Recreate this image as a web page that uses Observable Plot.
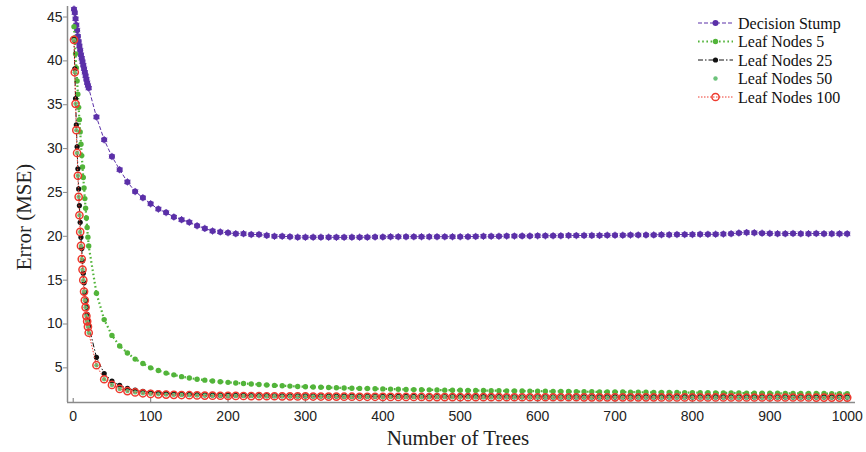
<!DOCTYPE html>
<html>
<head>
<meta charset="utf-8">
<script src="https://cdn.jsdelivr.net/npm/d3@7"></script>
<script src="https://cdn.jsdelivr.net/npm/@observablehq/plot@0.6"></script>
<style>
  html, body { margin: 0; padding: 0; background: #fff; }
  #chart svg { display: block; }
</style>
</head>
<body>
<div id="chart"></div>
<script>
// ---- Data ----
const trees = [1,2,3,4,5,6,7,8,9,10,11,12,13,14,15,16,17,18,19,20,
  30,40,50,60,70,80,90,100,
  110,120,130,140,150,160,170,180,190,200,
  210,220,230,240,250,260,270,280,290,300,
  310,320,330,340,350,360,370,380,390,400,
  410,420,430,440,450,460,470,480,490,500,
  510,520,530,540,550,560,570,580,590,600,
  610,620,630,640,650,660,670,680,690,700,
  710,720,730,740,750,760,770,780,790,800,
  810,820,830,840,850,860,870,880,890,900,
  910,920,930,940,950,960,970,980,990,1000];

const decisionStump = [45.9,45.5,44.8,44.1,43.5,42.8,42.2,41.7,41.2,40.7,40.3,39.9,39.5,39.1,38.7,38.3,37.9,37.5,37.2,36.9,
  33.6,31.0,29.1,27.6,26.2,25.1,24.4,23.7,
  23.1,22.7,22.2,21.9,21.6,21.2,20.9,20.6,20.5,20.4,
  20.3,20.3,20.2,20.2,20.1,20.0,20.0,19.95,19.9,19.9,
  19.9,19.9,19.9,19.88,19.88,19.9,19.9,19.9,19.92,19.92,
  19.95,19.95,19.95,19.95,19.95,19.95,19.95,19.95,19.95,19.95,
  19.96,19.98,20.0,20.0,20.0,20.02,20.02,20.04,20.04,20.05,
  20.05,20.06,20.06,20.08,20.08,20.1,20.1,20.1,20.12,20.12,
  20.12,20.14,20.15,20.15,20.16,20.18,20.18,20.2,20.2,20.2,
  20.22,20.22,20.24,20.25,20.3,20.38,20.42,20.4,20.36,20.33,
  20.3,20.3,20.32,20.3,20.3,20.32,20.3,20.3,20.28,20.28];

const leafNodes5 = [43.9,42.3,40.8,39.2,37.7,36.2,34.7,33.3,31.9,30.5,29.2,27.9,26.7,25.5,24.3,23.2,22.1,21.0,19.9,18.9,
  13.5,10.5,8.7,7.5,6.7,6.0,5.5,5.0,
  4.7,4.4,4.2,4.0,3.85,3.7,3.6,3.5,3.42,3.35,
  3.28,3.22,3.16,3.1,3.05,3.0,2.96,2.92,2.88,2.85,
  2.82,2.79,2.76,2.73,2.7,2.68,2.66,2.64,2.62,2.6,
  2.58,2.56,2.54,2.52,2.5,2.49,2.48,2.46,2.45,2.44,
  2.43,2.42,2.41,2.4,2.39,2.38,2.37,2.36,2.35,2.34,
  2.33,2.32,2.31,2.3,2.29,2.28,2.27,2.26,2.26,2.25,
  2.24,2.23,2.22,2.22,2.21,2.2,2.19,2.19,2.18,2.17,
  2.16,2.16,2.15,2.14,2.14,2.13,2.12,2.12,2.11,2.1,
  2.1,2.09,2.09,2.08,2.08,2.07,2.07,2.06,2.06,2.05];

const leafNodes25 = [42.5,39.1,35.7,32.7,30.2,27.7,25.4,23.5,21.6,19.9,18.6,17.2,15.8,14.7,13.6,12.7,11.9,11.1,10.4,9.8,
  6.2,4.35,3.5,3.0,2.65,2.45,2.32,2.22,
  2.15,2.1,2.05,2.0,1.97,1.95,1.93,1.91,1.89,1.88,
  1.87,1.86,1.85,1.84,1.83,1.82,1.82,1.81,1.8,1.8,
  1.79,1.79,1.78,1.78,1.77,1.77,1.76,1.76,1.75,1.75,
  1.75,1.74,1.74,1.74,1.73,1.73,1.73,1.72,1.72,1.72,
  1.72,1.71,1.71,1.71,1.71,1.7,1.7,1.7,1.7,1.7,
  1.69,1.69,1.69,1.69,1.69,1.69,1.69,1.69,1.69,1.69,
  1.69,1.69,1.68,1.68,1.68,1.68,1.68,1.68,1.68,1.68,
  1.68,1.68,1.68,1.68,1.68,1.68,1.68,1.68,1.68,1.68,
  1.67,1.67,1.67,1.67,1.67,1.67,1.67,1.67,1.67,1.67];

const leafNodes50 = [42.4,38.7,35.1,32.1,29.5,26.9,24.5,22.4,20.5,18.9,17.4,16.2,15.0,13.7,12.7,11.9,10.9,10.3,9.7,9.0,
  5.3,3.7,3.05,2.6,2.35,2.2,2.1,2.03,
  1.98,1.95,1.92,1.9,1.88,1.86,1.84,1.83,1.82,1.81,
  1.8,1.79,1.78,1.77,1.76,1.76,1.75,1.75,1.74,1.74,
  1.73,1.73,1.72,1.72,1.71,1.71,1.7,1.7,1.7,1.69,
  1.69,1.69,1.68,1.68,1.68,1.67,1.67,1.67,1.67,1.66,
  1.66,1.66,1.66,1.66,1.66,1.65,1.65,1.65,1.65,1.65,
  1.65,1.65,1.65,1.65,1.65,1.64,1.64,1.64,1.64,1.64,
  1.64,1.64,1.64,1.64,1.64,1.63,1.63,1.63,1.63,1.63,
  1.63,1.63,1.63,1.63,1.63,1.62,1.62,1.62,1.62,1.62,
  1.62,1.62,1.62,1.62,1.62,1.61,1.61,1.61,1.61,1.61];

const leafNodes100 = [42.4,38.7,35.1,32.1,29.5,26.9,24.5,22.4,20.5,18.9,17.4,16.2,15.0,13.7,12.7,11.9,10.9,10.3,9.7,9.0,
  5.3,3.7,3.05,2.6,2.35,2.2,2.1,2.03,
  1.98,1.95,1.92,1.9,1.88,1.86,1.84,1.83,1.82,1.81,
  1.8,1.79,1.78,1.77,1.76,1.76,1.75,1.75,1.74,1.74,
  1.73,1.73,1.72,1.72,1.71,1.71,1.7,1.7,1.7,1.69,
  1.69,1.69,1.68,1.68,1.68,1.67,1.67,1.67,1.67,1.66,
  1.66,1.66,1.66,1.66,1.66,1.65,1.65,1.65,1.65,1.65,
  1.65,1.65,1.65,1.65,1.65,1.64,1.64,1.64,1.64,1.64,
  1.64,1.64,1.64,1.64,1.64,1.63,1.63,1.63,1.63,1.63,
  1.63,1.63,1.63,1.63,1.63,1.62,1.62,1.62,1.62,1.62,
  1.62,1.62,1.62,1.62,1.62,1.61,1.61,1.61,1.61,1.61];

const seriesNames = ["Decision Stump", "Leaf Nodes 5", "Leaf Nodes 25", "Leaf Nodes 50", "Leaf Nodes 100"];
const xTicks = [0,100,200,300,400,500,600,700,800,900,1000];
const yTicks = [5,10,15,20,25,30,35,40,45];
const xTitle = "Number of Trees";
const yTitle = "Error (MSE)";

// ---- Styles ----
const styles = {
  "Decision Stump": {color: "#5b30a8", dash: "4,2", width: 1, line: true, marker: "stump"},
  "Leaf Nodes 5":   {color: "#52b43a", dash: "1.6,2.6", width: 2.2, line: true, marker: "fill", r: 2.7},
  "Leaf Nodes 25":  {color: "#111111", dash: "5,2,1.5,2", width: 1, line: true, marker: "fill", r: 2.6},
  "Leaf Nodes 50":  {color: "#6cc27a", dash: null, width: 0, line: false, marker: "fill", r: 2.2},
  "Leaf Nodes 100": {color: "#ee3a2e", dash: "1.5,1.5", width: 1, line: true, marker: "open", r: 3.6}
};
const valueArrays = [decisionStump, leafNodes5, leafNodes25, leafNodes50, leafNodes100];
const data = seriesNames.map((name, i) => trees.map((t, j) => ({series: name, trees: t, error: valueArrays[i][j]})));

const W = 866, H = 452;
const mt = 6, mb = 50, ml = 67, mr = 11;
const xDomain = [-7.4, 1010.7];
const yDomain = [1.05, 46.2];
const axisColor = "#8a8a8a";

const marks = [];
marks.push(Plot.ruleX([xDomain[0]], {stroke: axisColor, strokeWidth: 1.5}));
marks.push(Plot.ruleY([yDomain[0]], {stroke: axisColor, strokeWidth: 1.5}));
marks.push(Plot.tickX(xTicks, {x: d => d, insetTop: (H - mt - mb) - 4, stroke: axisColor, strokeWidth: 1.2}));

seriesNames.forEach((name, i) => {
  const s = styles[name];
  const d = data[i];
  if (s.line) {
    marks.push(Plot.line(d, {x: "trees", y: "error", stroke: s.color, strokeWidth: s.width, strokeDasharray: s.dash, strokeLinecap: "butt"}));
  }
  if (s.marker === "stump") {
    marks.push(Plot.dot(d, {x: "trees", y: "error", r: 3, fill: s.color, stroke: "none"}));
    marks.push(Plot.dot(d, {x: "trees", y: "error", r: 3.4, symbol: "asterisk", stroke: s.color, strokeWidth: 0.9}));
  } else if (s.marker === "fill") {
    marks.push(Plot.dot(d, {x: "trees", y: "error", r: s.r, fill: s.color, stroke: "none"}));
  } else if (s.marker === "open") {
    marks.push(Plot.dot(d, {x: "trees", y: "error", r: s.r, fill: "none", stroke: s.color, strokeWidth: 1.5}));
  }
});

marks.push(Plot.axisX(xTicks, {tickSize: 0, tickPadding: 9, fontSize: 14, fill: "#222", label: null, tickFormat: d => String(d)}));
marks.push(Plot.axisY(yTicks, {tickSize: 4, tickPadding: 1, fontSize: 14, fill: "#222", stroke: axisColor, label: null, tickFormat: d => String(d)}));

const plot = Plot.plot({
  width: W, height: H,
  marginTop: mt, marginBottom: mb, marginLeft: ml, marginRight: mr,
  style: {fontFamily: "'Liberation Sans', Arial, sans-serif", background: "#fff", color: "#222"},
  x: {domain: xDomain},
  y: {domain: yDomain},
  marks
});
document.getElementById("chart").appendChild(plot);

// ---- Titles & legend ----
const svg = d3.select(plot);
svg.append("text")
  .attr("x", 458).attr("y", 445)
  .attr("text-anchor", "middle")
  .style("font-family", "'Liberation Serif', 'Times New Roman', serif")
  .style("font-size", "21px").style("fill", "#222")
  .text(xTitle);
svg.append("text")
  .attr("transform", "translate(31,217) rotate(-90)")
  .attr("text-anchor", "middle")
  .style("font-family", "'Liberation Serif', 'Times New Roman', serif")
  .style("font-size", "21px").style("fill", "#222")
  .text(yTitle);

const lg = svg.append("g");
const rowY = [23, 41.5, 60, 78.5, 97];
seriesNames.forEach((name, i) => {
  const s = styles[name];
  const y = rowY[i];
  const g = lg.append("g");
  if (s.line) {
    g.append("line").attr("x1", 698).attr("x2", 733).attr("y1", y).attr("y2", y)
      .attr("stroke", s.color).attr("stroke-width", s.width).attr("stroke-dasharray", s.dash);
  }
  const cx = 715.5;
  if (s.marker === "stump") {
    g.append("circle").attr("cx", cx).attr("cy", y).attr("r", 3).attr("fill", s.color);
  } else if (s.marker === "fill") {
    g.append("circle").attr("cx", cx).attr("cy", y).attr("r", s.r).attr("fill", s.color);
  } else {
    g.append("circle").attr("cx", cx).attr("cy", y).attr("r", s.r).attr("fill", "none")
      .attr("stroke", s.color).attr("stroke-width", 1.5);
  }
  g.append("text").attr("x", 738).attr("y", y).attr("dy", "0.35em")
    .attr("text-anchor", "start")
    .style("font-family", "'Liberation Serif', 'Times New Roman', serif")
    .style("font-size", "16px").style("fill", "#111")
    .text(name);
});
</script>
</body>
</html>
